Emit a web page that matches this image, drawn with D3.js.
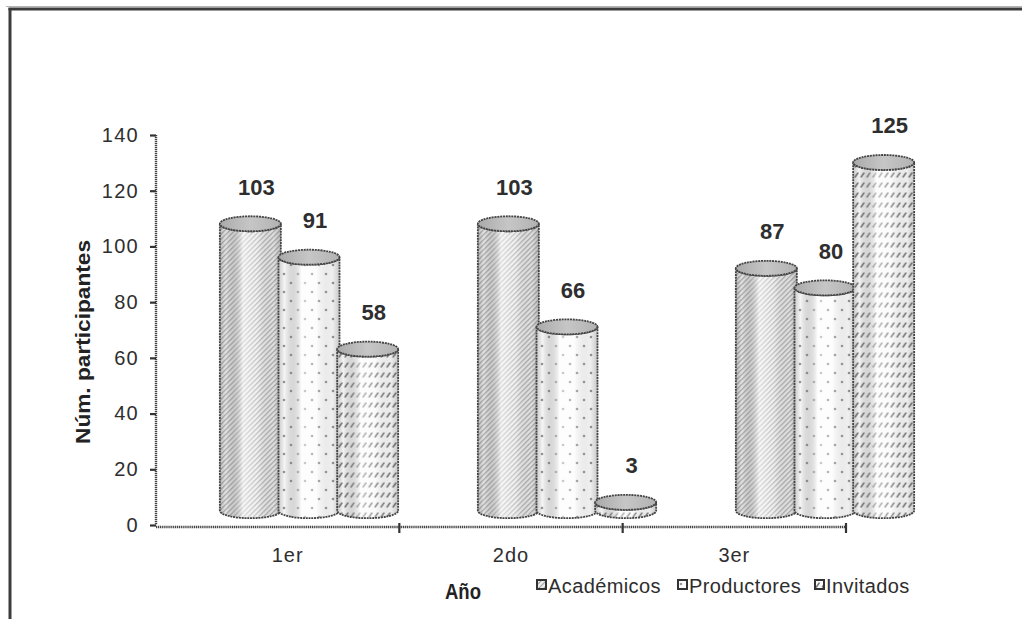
<!DOCTYPE html>
<html>
<head>
<meta charset="utf-8">
<script src="https://cdn.jsdelivr.net/npm/d3@7/dist/d3.min.js"></script>
<style>
  html, body { margin: 0; padding: 0; background: #fff; }
  svg { display: block; font-family: Arial, "Liberation Sans", sans-serif; }
</style>
</head>
<body>
<svg id="chart" width="1022" height="619"></svg>
<script>
// Participants per year and group
const years = ["1er", "2do", "3er"];
const groups = ["Académicos", "Productores", "Invitados"];
const academicos = [103, 103, 87];
const productores = [91, 66, 80];
const invitados = [58, 3, 125];
const yTicks = [0, 20, 40, 60, 80, 100, 120, 140];
const yTitle = "Núm. participantes";
const xTitle = "Año";

const seriesValues = [academicos, productores, invitados];

const svg = d3.select("#chart");
const defs = svg.append("defs");
const textColor = "#2e2e2e";

// ---- fill patterns for each group ----
const pHatch = defs.append("pattern").attr("id", "pat-0")
  .attr("patternUnits", "userSpaceOnUse").attr("width", 5).attr("height", 5);
pHatch.append("rect").attr("width", 5).attr("height", 5).attr("fill", "#ededed");
pHatch.append("path").attr("d", "M-1,1 l2,-2 M0,5 l5,-5 M4,6 l2,-2")
  .attr("stroke", "#a6a6a6").attr("stroke-width", 1.2);

const pDots = defs.append("pattern").attr("id", "pat-1")
  .attr("patternUnits", "userSpaceOnUse").attr("width", 14).attr("height", 18);
pDots.append("rect").attr("width", 14).attr("height", 18).attr("fill", "#fcfcfc");
pDots.append("circle").attr("cx", 3).attr("cy", 4).attr("r", 1.3).attr("fill", "#999");
pDots.append("circle").attr("cx", 10).attr("cy", 13).attr("r", 1.3).attr("fill", "#999");

const pDash = defs.append("pattern").attr("id", "pat-2")
  .attr("patternUnits", "userSpaceOnUse").attr("width", 6).attr("height", 10);
pDash.append("rect").attr("width", 6).attr("height", 10).attr("fill", "#fafafa");
pDash.append("path").attr("d", "M1.4,7 L4.2,3")
  .attr("stroke", "#777").attr("stroke-width", 1.5).attr("stroke-linecap", "round");

// cylinder shading
const shade = defs.append("linearGradient").attr("id", "shade")
  .attr("x1", "0%").attr("x2", "100%").attr("y1", "0%").attr("y2", "0%");
[[0, "#000", 0.2], [0.1, "#000", 0.03], [0.38, "#fff", 0.55], [0.62, "#fff", 0.2],
 [0.88, "#000", 0.05], [1, "#000", 0.2]].forEach(([o, c, a]) =>
  shade.append("stop").attr("offset", o).attr("stop-color", c).attr("stop-opacity", a));

const capGrad = defs.append("linearGradient").attr("id", "cap")
  .attr("x1", "0%").attr("x2", "100%").attr("y1", "0%").attr("y2", "0%");
[[0, "#aaaaaa"], [0.5, "#c6c6c6"], [1, "#b2b2b2"]].forEach(([o, c]) =>
  capGrad.append("stop").attr("offset", o).attr("stop-color", c));

// ---- frame ----
svg.append("line").attr("x1", 6).attr("x2", 1022).attr("y1", 6.5).attr("y2", 6.5)
  .attr("stroke", "#b5b5b5").attr("stroke-width", 1);
svg.append("line").attr("x1", 8.5).attr("x2", 1022).attr("y1", 9).attr("y2", 9)
  .attr("stroke", "#3c3c3c").attr("stroke-width", 3);
svg.append("line").attr("x1", 10).attr("x2", 10).attr("y1", 8).attr("y2", 619)
  .attr("stroke", "#3c3c3c").attr("stroke-width", 3);

// ---- scales ----
const y = d3.scaleLinear().domain([0, 140]).range([525, 135]);
const xAxisBand = d3.scaleBand().domain(years).range([176, 846]);
const xBars = d3.scaleBand().domain(years).range([180, 954]);
const xSub = d3.scaleBand().domain(groups).range([-88, 88]);

// depth offset of the bars relative to the front axis plane
const depthY = -14.3;
const barW = 61;
const ry = 7.5;

// ---- axes ----
const yAxis = svg.append("g").attr("transform", "translate(156,0)")
  .call(d3.axisLeft(y).tickValues(yTicks).tickSize(6).tickPadding(11));
yAxis.select(".domain").attr("stroke", "#444").attr("stroke-width", 2.4)
  .attr("stroke-dasharray", "1.2,0.8").attr("d", `M0,${y(140)}V${y(0)}`);
yAxis.selectAll(".tick line").attr("stroke", "#333").attr("stroke-width", 2.2);
yAxis.selectAll(".tick text").attr("fill", textColor).attr("font-size", 20)
  .attr("letter-spacing", 1.3)
  .attr("font-family", "Arial, 'Liberation Sans', sans-serif");

const xAxisG = svg.append("g");
xAxisG.append("line").attr("x1", 156).attr("x2", xAxisBand.range()[1])
  .attr("y1", y(0) + 2).attr("y2", y(0) + 2)
  .attr("stroke", "#444").attr("stroke-width", 2.6).attr("stroke-dasharray", "1.2,0.7");
const boundaries = years.slice(1).map(d => xAxisBand(d)).concat([xAxisBand.range()[1]]);
xAxisG.selectAll("line.tk").data(boundaries).join("line").attr("class", "tk")
  .attr("x1", d => d).attr("x2", d => d)
  .attr("y1", y(0) - 2).attr("y2", y(0) + 8)
  .attr("stroke", "#333").attr("stroke-width", 2.2);
xAxisG.selectAll("text").data(years).join("text")
  .attr("x", d => xAxisBand(d) + xAxisBand.bandwidth() / 2)
  .attr("y", 562)
  .attr("text-anchor", "middle").attr("font-size", 20).attr("fill", textColor)
  .attr("letter-spacing", 1)
  .text(d => d);

// axis titles
svg.append("text")
  .attr("transform", `translate(90,${(y(140) + y(0)) / 2 + 12}) rotate(-90)`)
  .attr("text-anchor", "middle").attr("font-size", 21).attr("font-weight", "bold")
  .attr("fill", "#222").attr("textLength", 204).attr("lengthAdjust", "spacingAndGlyphs")
  .text(yTitle);
svg.append("text").attr("x", 445).attr("y", 599)
  .attr("font-size", 22).attr("font-weight", "bold").attr("fill", "#222")
  .attr("textLength", 36).attr("lengthAdjust", "spacingAndGlyphs")
  .text(xTitle);

// ---- cylinders ----
const bars = [];
years.forEach((yr, i) => {
  groups.forEach((g, j) => {
    bars.push({ year: yr, group: g, gi: j, value: seriesValues[j][i] });
  });
});

const barG = svg.append("g");
const cyl = barG.selectAll("g.cyl").data(bars).join("g").attr("class", "cyl")
  .attr("transform", d => {
    const cx = xBars(d.year) + xBars.bandwidth() / 2 + xSub(d.group) + xSub.bandwidth() / 2;
    return `translate(${cx},0)`;
  });

function bodyPath(d) {
  const rx = barW / 2;
  const top = y(d.value) + depthY;
  const base = y(0) + depthY;
  return `M${-rx},${top} L${-rx},${base} A${rx},${ry} 0 0 0 ${rx},${base} L${rx},${top} A${rx},${ry} 0 0 1 ${-rx},${top} Z`;
}

cyl.append("path").attr("d", bodyPath).attr("fill", d => `url(#pat-${d.gi})`);
cyl.append("path").attr("d", bodyPath).attr("fill", "url(#shade)");
cyl.append("path").attr("d", bodyPath).attr("fill", "none")
  .attr("stroke", "#444").attr("stroke-width", 1.8).attr("stroke-dasharray", "2,0.8");
cyl.append("ellipse")
  .attr("cx", 0).attr("cy", d => y(d.value) + depthY)
  .attr("rx", barW / 2).attr("ry", ry)
  .attr("fill", "url(#cap)").attr("stroke", "#444").attr("stroke-width", 1.8)
  .attr("stroke-dasharray", "2,0.8");

// value labels
cyl.append("text")
  .attr("x", 6).attr("y", d => y(d.value) + depthY - 29)
  .attr("text-anchor", "middle").attr("font-size", 22).attr("font-weight", "bold")
  .attr("fill", textColor)
  .text(d => d.value);

// ---- legend ----
const legendX = [537, 678, 815];
const leg = svg.append("g").selectAll("g").data(groups).join("g")
  .attr("transform", (d, i) => `translate(${legendX[i]},580)`);
leg.append("rect").attr("x", 0).attr("y", 0).attr("width", 9).attr("height", 9)
  .attr("fill", (d, i) => `url(#pat-${i})`).attr("stroke", "#333").attr("stroke-width", 2);
leg.append("text").attr("x", 11).attr("y", 13)
  .attr("font-size", 20).attr("fill", textColor).attr("letter-spacing", 0.4)
  .text(d => d);
</script>
</body>
</html>
